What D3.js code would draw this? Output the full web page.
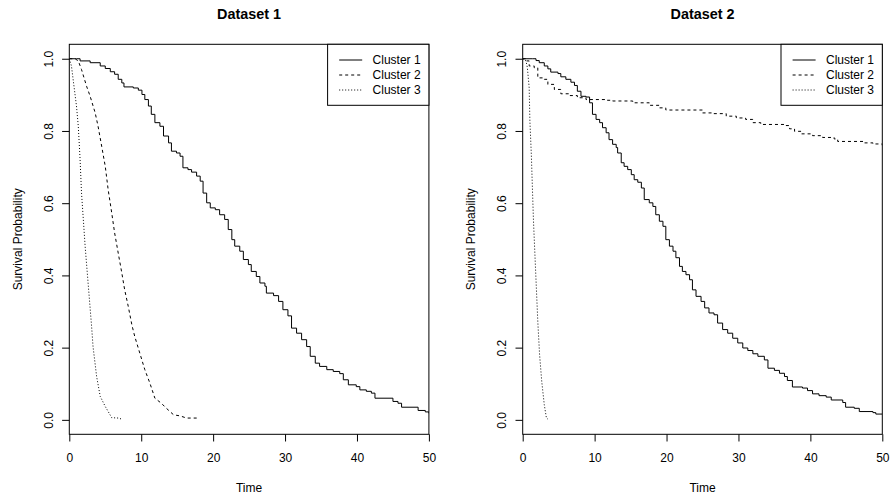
<!DOCTYPE html>
<html lang="en">
<head>
<meta charset="UTF-8">
<title>Survival curves</title>
<script src="https://d3js.org/d3.v7.min.js"></script>
<style>
    body { margin: 0; background: #fff; }
    svg { display: block; font-family: "Liberation Sans", Arial, Helvetica, sans-serif; }
    .tick-label { font-size: 12px; }
    .axis-title { font-size: 12px; }
    .main-title { font-size: 14.4px; font-weight: bold; }
    .legend-text { font-size: 12px; }
</style>
</head>
<body>
<svg width="892" height="499"></svg>
<script>
// Kaplan-Meier estimates: [time, survival]
const clusterNames = ["Cluster 1", "Cluster 2", "Cluster 3"];
const xTicks = [0, 10, 20, 30, 40, 50];
const yTicks = [0, 0.2, 0.4, 0.6, 0.8, 1.0];

const ds1Cluster1 = [[0,1],[1.0,1],[1.5,.994],[2.9,.989],[4.3,.98],[5.0,.973],[5.7,.964],[6.3,.957],[6.8,.943],[7.3,.933],[7.6,.922],[8.9,.919],[9.6,.913],[10.1,.901],[10.5,.887],[11.0,.869],[11.4,.846],[11.9,.823],[12.6,.813],[13.1,.786],[13.8,.767],[14.2,.744],[14.9,.739],[15.4,.73],[15.8,.698],[16.5,.693],[17.0,.686],[17.7,.675],[18.2,.661],[18.6,.628],[19.1,.601],[19.6,.587],[20.3,.582],[20.9,.568],[21.6,.555],[22.1,.527],[22.6,.499],[23.0,.481],[23.7,.467],[24.2,.444],[24.9,.43],[25.3,.411],[26.0,.397],[26.5,.379],[27.2,.37],[27.4,.351],[28.4,.344],[29.1,.328],[29.7,.305],[30.4,.288],[30.9,.254],[31.6,.24],[32.3,.222],[33.0,.203],[33.5,.176],[34.2,.157],[34.8,.148],[35.8,.139],[36.7,.134],[37.6,.128],[38.1,.111],[38.8,.097],[39.9,.092],[40.4,.083],[41.3,.079],[42.0,.074],[42.5,.06],[45.0,.051],[45.7,.046],[46.2,.035],[48.5,.026],[49.5,.022],[50,.018]];
const ds1Cluster2 = [[0,1],[0.8,1],[1.25,.994],[1.7,.97],[2.4,.924],[2.9,.896],[3.6,.85],[4.0,.813],[4.5,.758],[5.0,.702],[5.4,.638],[5.9,.573],[6.3,.518],[6.8,.462],[7.3,.407],[7.7,.36],[8.2,.314],[8.7,.263],[9.1,.231],[9.8,.185],[10.5,.139],[11.2,.102],[11.9,.06],[12.8,.046],[13.5,.032],[14.5,.014],[15.4,.011],[16.3,.005],[17.8,.005]];
const ds1Cluster3 = [[0,1],[0.3,.98],[0.65,.924],[1.0,.869],[1.25,.813],[1.5,.721],[1.7,.628],[1.95,.555],[2.2,.481],[2.5,.407],[2.8,.333],[3.1,.259],[3.3,.203],[3.8,.12],[4.3,.065],[5.0,.037],[5.9,.006],[6.8,.005],[7.3,.002]];

const ds2Cluster1 = [[0,1],[1.4,1],[1.85,.995],[2.3,.989],[3.0,.98],[3.5,.972],[3.9,.963],[4.9,.959],[5.3,.95],[6.0,.943],[6.7,.935],[7.2,.926],[7.6,.91],[8.1,.896],[8.8,.894],[9.3,.878],[9.7,.846],[10.2,.832],[10.7,.823],[11.1,.809],[11.6,.795],[12.0,.776],[12.5,.763],[13.0,.754],[13.2,.739],[13.7,.712],[14.1,.702],[14.6,.693],[15.1,.679],[15.5,.665],[16.0,.658],[16.5,.642],[16.9,.61],[17.6,.601],[18.1,.591],[18.5,.568],[19.0,.55],[19.5,.536],[19.9,.499],[20.4,.481],[20.9,.467],[21.3,.449],[21.8,.425],[22.2,.411],[22.7,.402],[23.2,.388],[23.6,.36],[24.1,.342],[24.8,.328],[25.3,.31],[25.9,.296],[26.6,.291],[27.1,.268],[27.8,.25],[28.5,.24],[29.2,.226],[29.9,.213],[30.6,.199],[31.3,.192],[32.0,.183],[32.7,.176],[33.6,.166],[34.1,.143],[35.0,.137],[35.7,.129],[36.4,.12],[36.8,.109],[37.5,.091],[38.9,.088],[39.6,.081],[40.3,.072],[41.2,.067],[42.2,.063],[42.9,.055],[44.5,.048],[44.9,.035],[46.1,.032],[46.8,.023],[48.7,.02],[49.1,.016],[50,.016]];
const ds2Cluster2 = [[0,1],[0.46,.994],[0.9,.98],[1.6,.975],[2.1,.947],[3.0,.943],[3.5,.929],[4.4,.915],[5.3,.903],[6.5,.898],[7.6,.892],[8.8,.887],[11.6,.885],[12.5,.883],[15.3,.878],[17.6,.871],[19.0,.864],[19.9,.858],[25.0,.85],[26.4,.848],[28.3,.841],[29.7,.836],[31.0,.832],[32.0,.823],[33.1,.818],[36.4,.815],[37.1,.806],[37.8,.799],[38.7,.792],[40.3,.787],[41.7,.782],[43.3,.778],[43.8,.771],[47.5,.767],[48.7,.764],[50,.76]];
const ds2Cluster3 = [[0,1],[0.46,.994],[0.65,.975],[0.9,.92],[1.0,.827],[1.2,.735],[1.35,.642],[1.5,.55],[1.7,.457],[1.9,.365],[2.1,.272],[2.35,.18],[2.65,.106],[3.0,.042],[3.3,.005],[3.5,.002]];

// the steep curves have so many tiny steps that they read as a line
const stepped1 = [true, false, false];
const stepped2 = [true, true, false];

const datasets = [
    { title: "Dataset 1", left: 69.3, series: [ds1Cluster1, ds1Cluster2, ds1Cluster3], stepped: stepped1 },
    { title: "Dataset 2", left: 522.7, series: [ds2Cluster1, ds2Cluster2, ds2Cluster3], stepped: stepped2 }
];

const plotW = 359.6, plotTop = 44.3, plotBottom = 434.3;
const dashes = [null, "3,3", "1,2"];
const svg = d3.select("svg");

datasets.forEach(ds => {
    const x = d3.scaleLinear().domain([0, 50]).range([ds.left, ds.left + plotW]);
    const y = d3.scaleLinear().domain([-0.04, 1.04]).range([plotBottom, plotTop]);
    const g = svg.append("g");

    // title
    g.append("text").attr("class", "main-title")
        .attr("x", ds.left + plotW / 2).attr("y", 19.3)
        .attr("text-anchor", "middle").text(ds.title);

    // clip so curves stop at the box
    const clipId = "clip" + ds.title.replace(" ", "");
    g.append("clipPath").attr("id", clipId)
        .append("rect").attr("x", ds.left).attr("y", plotTop)
        .attr("width", plotW).attr("height", plotBottom - plotTop);

    ds.series.forEach((s, i) => {
        const line = d3.line()
            .x(d => x(d[0]))
            .y(d => y(d[1]))
            .curve(ds.stepped[i] ? d3.curveStepAfter : d3.curveLinear);
        g.append("path")
            .datum(s)
            .attr("clip-path", `url(#${clipId})`)
            .attr("fill", "none")
            .attr("stroke", "#000")
            .attr("stroke-width", 1)
            .attr("stroke-dasharray", dashes[i])
            .attr("d", line);
    });

    // axes
    const xAxis = g.append("g")
        .attr("transform", `translate(0,${plotBottom})`)
        .call(d3.axisBottom(x).tickValues(xTicks).tickSize(7.2));
    xAxis.select(".domain").remove();
    xAxis.selectAll(".tick text").remove();
    xAxis.selectAll(".tick").append("text")
        .attr("class", "tick-label").attr("fill", "#000")
        .attr("y", 461.7 - plotBottom).attr("text-anchor", "middle")
        .text(d => d);

    const yAxis = g.append("g")
        .attr("transform", `translate(${ds.left},0)`)
        .call(d3.axisLeft(y).tickValues(yTicks).tickSize(7.2));
    yAxis.select(".domain").remove();
    yAxis.selectAll(".tick text").remove();
    yAxis.selectAll(".tick").append("text")
        .attr("class", "tick-label").attr("fill", "#000")
        .attr("text-anchor", "middle")
        .attr("transform", "translate(-16.8,0) rotate(-90)")
        .text(d => d3.format(".1f")(d));

    // box
    g.append("rect")
        .attr("x", ds.left).attr("y", plotTop)
        .attr("width", plotW).attr("height", plotBottom - plotTop)
        .attr("fill", "none").attr("stroke", "#000").attr("stroke-width", 1);

    // axis titles
    g.append("text").attr("class", "axis-title")
        .attr("x", ds.left + plotW / 2).attr("y", 491.7)
        .attr("text-anchor", "middle").text("Time");
    g.append("text").attr("class", "axis-title")
        .attr("text-anchor", "middle")
        .attr("transform", `translate(${ds.left - 47.8},${(plotTop + plotBottom) / 2}) rotate(-90)`)
        .text("Survival Probability");

    // legend
    const legW = 101.3, legH = 61;
    const lg = g.append("g").attr("transform", `translate(${ds.left + plotW - legW},${plotTop})`);
    lg.append("rect").attr("width", legW).attr("height", legH)
        .attr("fill", "#fff").attr("stroke", "#000").attr("stroke-width", 1);
    clusterNames.forEach((name, i) => {
        const ry = 15.7 + i * 15;
        lg.append("line")
            .attr("x1", 11.6).attr("x2", 34.6).attr("y1", ry).attr("y2", ry)
            .attr("stroke", "#000").attr("stroke-width", 1)
            .attr("stroke-dasharray", dashes[i]);
        lg.append("text").attr("class", "legend-text")
            .attr("x", 45).attr("y", ry + 4.3)
            .text(name);
    });
});
</script>
</body>
</html>
